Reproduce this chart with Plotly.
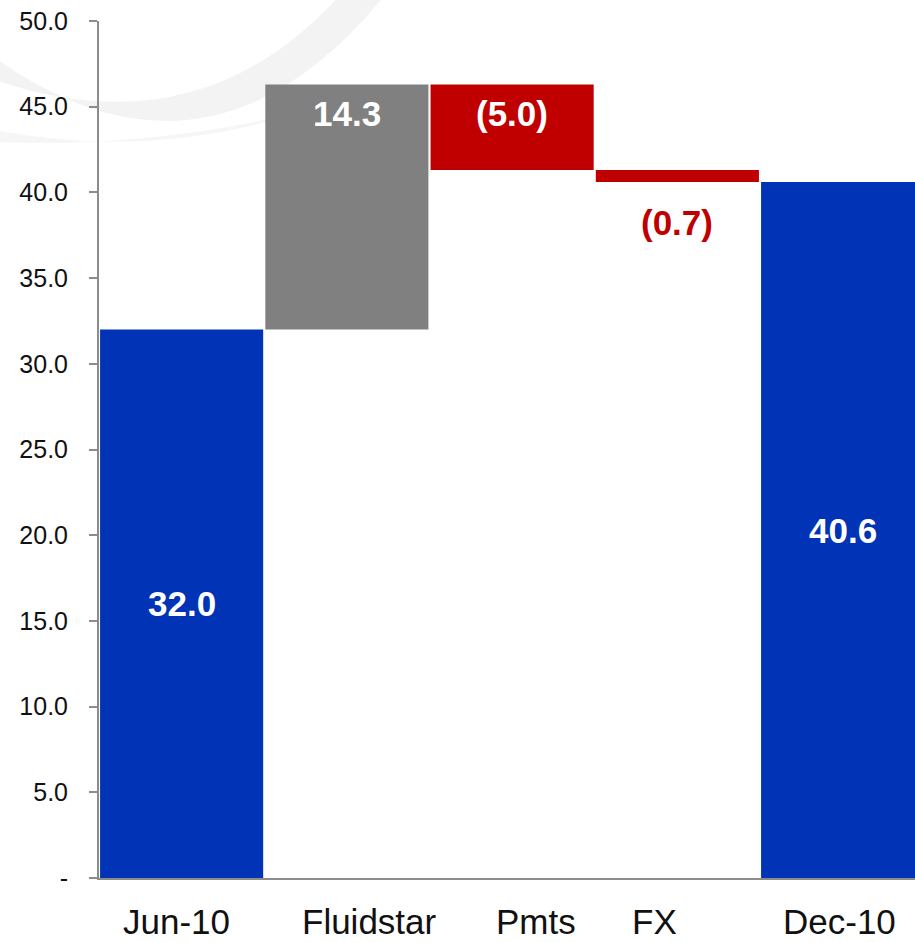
import plotly.graph_objects as go

# Net cash bridge, Jun-10 to Dec-10
categories = ["Jun-10", "Fluidstar", "Pmts", "FX", "Dec-10"]
values = [32.0, 14.3, -5.0, -0.7, 40.6]
measures = ["absolute", "relative", "relative", "relative", "total"]
value_labels = ["32.0", "14.3", "(5.0)", "(0.7)", "40.6"]
y_tick_vals = [0, 5, 10, 15, 20, 25, 30, 35, 40, 45, 50]
y_tick_text = ["-", "5.0", "10.0", "15.0", "20.0", "25.0", "30.0", "35.0", "40.0", "45.0", "50.0"]

BLUE = "#0033B5"
GREY = "#808080"
RED = "#C00000"
AXIS = "#8C8C8C"
FONT = "Liberation Sans, Arial, sans-serif"

W, H = 915, 942
ML, MR, MT, MB = 99, 0, 21, 64
PW, PH = W - ML - MR, H - MT - MB


def px(x, y):
    """pixel position -> paper coordinates"""
    return (x - ML) / PW, (H - MB - y) / PH


fig = go.Figure()
fig.add_trace(go.Waterfall(
    x=categories,
    y=values,
    measure=measures,
    increasing=dict(marker=dict(color=GREY, line=dict(width=0))),
    decreasing=dict(marker=dict(color=RED, line=dict(width=0))),
    totals=dict(marker=dict(color=BLUE, line=dict(width=0))),
    connector=dict(visible=False),
    text=None,
    hoverinfo="skip",
))

# running levels for label placement
levels = []
run = 0.0
for v, m in zip(values, measures):
    if m == "absolute":
        start, run = 0.0, v
    elif m == "total":
        start = 0.0
    else:
        start = run
        run = run + v
    levels.append((start, run))

for i, (cat, lab, (lo, hi)) in enumerate(zip(categories, value_labels, levels)):
    m = measures[i]
    if m in ("absolute", "total"):
        y, shift, color = (lo + hi) / 2, 0, "white"
    elif abs(hi - lo) < 2:
        y, shift, color = min(lo, hi), -40, RED
    else:
        y, shift, color = max(lo, hi), -29, "white"
    fig.add_annotation(x=cat, y=y, yshift=shift, text=f"<b>{lab}</b>", showarrow=False,
                       xref="x", yref="y", yanchor="middle",
                       font=dict(family=FONT, size=35, color=color))

# category labels under the axis
label_shift = [-5, 23, 24, -23, -3]
for cat, dx in zip(categories, label_shift):
    fig.add_annotation(x=cat, y=0, xref="x", yref="paper", yanchor="middle",
                       xshift=dx, yshift=-43, text=cat, showarrow=False,
                       borderpad=0,
                       font=dict(family=FONT, size=35, color="#111111"))

# faint swoosh in the background
def pt(x, y):
    a, b = px(x, y)
    return f"{a:.4f},{b:.4f}"

swoosh = (f"M {pt(-5, 58)} Q {pt(210, 210)} {pt(385, -5)} "
          f"L {pt(340, -5)} Q {pt(200, 150)} {pt(-5, 80)} Z")
swoosh2 = (f"M {pt(-5, 130)} Q {pt(150, 160)} {pt(300, 112)} "
           f"Q {pt(150, 148)} {pt(-5, 142)} Z")
for path, col in ((swoosh, "#F3F3F3"), (swoosh2, "#F6F6F6")):
    fig.add_shape(type="path", path=path, xref="paper", yref="paper",
                  fillcolor=col, line=dict(width=0), layer="below")

fig.update_layout(
    width=W, height=H,
    margin=dict(l=ML, r=MR, t=MT, b=MB),
    paper_bgcolor="white", plot_bgcolor="rgba(0,0,0,0)",
    showlegend=False,
    waterfallgap=0.013,
    font=dict(family=FONT, color="#111111"),
    xaxis=dict(type="category", range=[-0.5, 4.438], showticklabels=False,
               showgrid=False, zeroline=False, showline=True, linecolor=AXIS,
               linewidth=2, ticks="", fixedrange=True),
    yaxis=dict(range=[0, 50], tickvals=y_tick_vals, ticktext=y_tick_text,
               showgrid=False, zeroline=False, showline=True, linecolor=AXIS,
               linewidth=2, ticks="outside", ticklen=8, tickwidth=2,
               tickcolor=AXIS, ticklabelstandoff=16,
               tickfont=dict(family=FONT, size=25, color="#111111")),
)

fig.write_html("out.html")
